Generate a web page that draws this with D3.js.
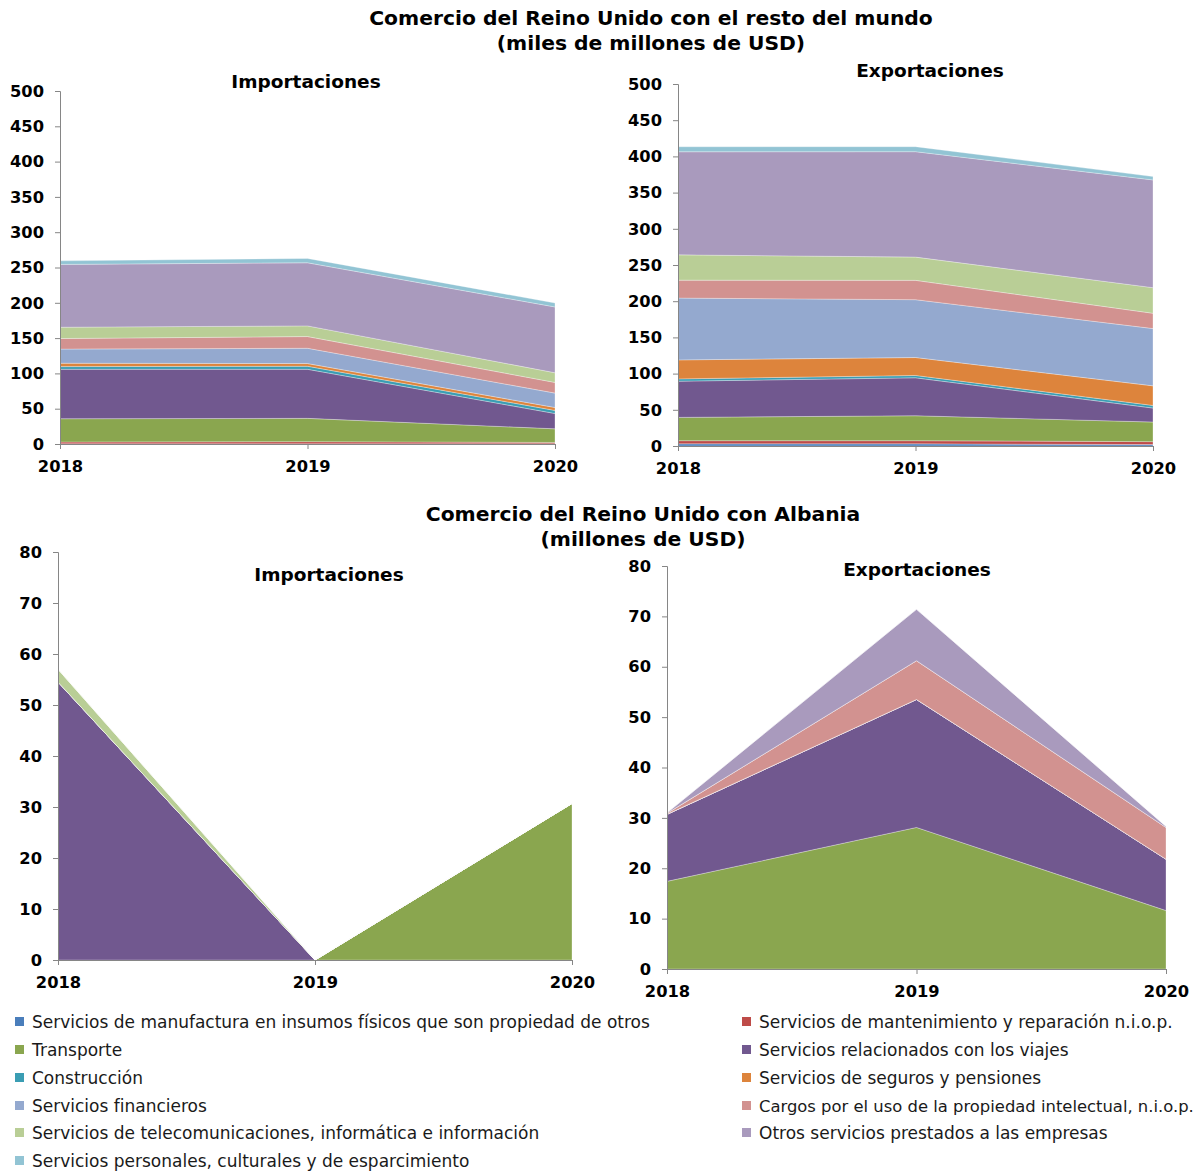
<!DOCTYPE html>
<html lang="es">
<head>
<meta charset="utf-8">
<script src="https://cdn.jsdelivr.net/npm/d3@7"></script>
<style>
  body { margin: 0; background: #fff; }
  svg { display: block; }
  .tick text { font-family: "DejaVu Sans", Verdana, sans-serif; font-weight: bold; font-size: 16.3px; fill: #000; }
  .title { font-family: "DejaVu Sans", Verdana, sans-serif; font-weight: bold; font-size: 20.3px; fill: #000; }
  .subtitle { font-family: "DejaVu Sans", Verdana, sans-serif; font-weight: bold; font-size: 18.5px; fill: #000; }
  .legend text { font-family: "DejaVu Sans", Verdana, sans-serif; font-size: 17px; fill: #1a1a1a; }
  .legend text.narrow { font-size: 16.4px; }
</style>
</head>
<body>
<svg id="chart" width="1198" height="1171"></svg>
<script>
// Years on the horizontal axis
const years = [2018, 2019, 2020];

// Service categories (stack order, bottom to top)
const categories = [
  "Servicios de manufactura en insumos físicos que son propiedad de otros",
  "Servicios de mantenimiento y reparación n.i.o.p.",
  "Transporte",
  "Servicios relacionados con los viajes",
  "Construcción",
  "Servicios de seguros y pensiones",
  "Servicios financieros",
  "Cargos por el uso de la propiedad intelectual, n.i.o.p.",
  "Servicios de telecomunicaciones, informática e información",
  "Otros servicios prestados a las empresas",
  "Servicios personales, culturales y de esparcimiento"
];

const colors = [
  "#4a7ebb", "#be4b48", "#8aa64f", "#71588f", "#3a9db3", "#dd843c",
  "#94a9cf", "#d29290", "#b9ce96", "#a99abd", "#92c4d4"
];

// UK trade with the rest of the world, billions of USD (one row per category)
const worldImports = [
  [0.3, 0.3, 0.2],
  [2.5, 3.0, 2.0],
  [33.0, 33.0, 19.3],
  [70.0, 69.5, 21.7],
  [3.8, 4.3, 4.3],
  [4.8, 3.8, 4.2],
  [20.0, 21.7, 20.4],
  [15.0, 16.6, 15.1],
  [16.0, 15.1, 13.7],
  [89.0, 89.4, 93.2],
  [5.0, 6.1, 5.6]
];

const worldExports = [
  [3.0, 3.0, 2.0],
  [4.3, 4.3, 4.0],
  [32.2, 34.5, 27.1],
  [50.0, 52.4, 19.3],
  [3.2, 3.2, 3.6],
  [26.2, 24.8, 27.1],
  [85.4, 79.9, 79.1],
  [24.8, 26.7, 21.1],
  [34.9, 32.1, 35.4],
  [142.4, 145.6, 148.8],
  [6.9, 6.9, 4.6]
];

// UK trade with Albania, millions of USD
const albaniaImports = [
  [0, 0, 0],
  [0, 0, 0],
  [0, 0, 30.7],
  [54.5, 0, 0],
  [0, 0, 0],
  [0, 0, 0],
  [0, 0, 0],
  [0, 0, 0],
  [2.5, 0, 0],
  [0, 0, 0],
  [0, 0, 0]
];

const albaniaExports = [
  [0, 0, 0],
  [0, 0, 0],
  [17.4, 28.1, 11.6],
  [13.3, 25.4, 10.2],
  [0, 0, 0],
  [0, 0, 0],
  [0, 0, 0],
  [0.2, 7.7, 6.3],
  [0, 0, 0],
  [0.1, 10.2, 0.2],
  [0, 0, 0]
];

const yTicksWorld = [0, 50, 100, 150, 200, 250, 300, 350, 400, 450, 500];
const yTicksAlbania = [0, 10, 20, 30, 40, 50, 60, 70, 80];

const svg = d3.select("#chart");

function drawPanel(cfg) {
  const { values, x0, x1, y0, y1, max, ticks, title, titleX, titleY } = cfg;
  const g = svg.append("g");

  const x = d3.scalePoint().domain(years).range([x0, x1]);
  const y = d3.scaleLinear().domain([0, max]).range([y0, y1]);

  const rows = years.map((yr, j) => {
    const r = { year: yr };
    categories.forEach((c, i) => { r[i] = values[i][j]; });
    return r;
  });
  const stack = d3.stack().keys(categories.map((c, i) => i));
  const layers = stack(rows);

  const area = d3.area()
    .x(d => x(d.data.year))
    .y0(d => y(d[0]))
    .y1(d => y(d[1]));

  g.selectAll("path.layer")
    .data(layers)
    .join("path")
    .attr("class", "layer")
    .attr("d", area)
    .attr("fill", (d, i) => colors[i])
    .attr("stroke", "#ffffff")
    .attr("stroke-width", 0.6)
    .attr("stroke-opacity", 0.5);

  const yAxis = d3.axisLeft(y).tickValues(ticks).tickSize(5).tickPadding(11);
  const ya = g.append("g").attr("transform", `translate(${x0},0)`).call(yAxis);
  ya.selectAll(".domain, .tick line").attr("stroke", "#868686");
  ya.select(".domain").attr("d", `M-5,${y1 + 0.5}H0.5V${y0}`);

  const xAxis = d3.axisBottom(x).tickSize(5).tickPadding(11);
  const xa = g.append("g").attr("transform", `translate(0,${y0})`).call(xAxis);
  xa.selectAll(".domain, .tick line").attr("stroke", "#868686");
  xa.select(".domain").attr("d", `M${x0},0.5H${x1}`);

  g.append("text").attr("class", "subtitle")
    .attr("x", titleX).attr("y", titleY)
    .attr("text-anchor", "middle").text(title);
}

// Main titles
svg.append("text").attr("class", "title").attr("x", 651).attr("y", 25)
  .attr("text-anchor", "middle").text("Comercio del Reino Unido con el resto del mundo");
svg.append("text").attr("class", "title").attr("x", 651).attr("y", 50)
  .attr("text-anchor", "middle").text("(miles de millones de USD)");
svg.append("text").attr("class", "title").attr("x", 643).attr("y", 521)
  .attr("text-anchor", "middle").text("Comercio del Reino Unido con Albania");
svg.append("text").attr("class", "title").attr("x", 643).attr("y", 546)
  .attr("text-anchor", "middle").text("(millones de USD)");

drawPanel({ values: worldImports, x0: 60, x1: 555, y0: 444, y1: 91, max: 500,
  ticks: yTicksWorld, title: "Importaciones", titleX: 306, titleY: 88 });
drawPanel({ values: worldExports, x0: 678, x1: 1153, y0: 446, y1: 84, max: 500,
  ticks: yTicksWorld, title: "Exportaciones", titleX: 930, titleY: 77 });
drawPanel({ values: albaniaImports, x0: 58, x1: 572, y0: 960, y1: 552, max: 80,
  ticks: yTicksAlbania, title: "Importaciones", titleX: 329, titleY: 581 });
drawPanel({ values: albaniaExports, x0: 667, x1: 1166, y0: 969, y1: 566, max: 80,
  ticks: yTicksAlbania, title: "Exportaciones", titleX: 917, titleY: 576 });

// Legend: two columns, left column takes even indices
const legend = svg.append("g").attr("class", "legend");
const rowY = [1022, 1050, 1078, 1106, 1133, 1161];
const colX = [15, 742];
const colMaxText = [640, 426];
categories.forEach((c, i) => {
  const col = i % 2;
  const row = Math.floor(i / 2);
  const item = legend.append("g").attr("transform", `translate(${colX[col]},${rowY[row]})`);
  item.append("rect").attr("x", 0).attr("y", -5).attr("width", 9).attr("height", 9)
    .attr("fill", colors[i]);
  const t = item.append("text").attr("x", 17).attr("y", 6).text(c);
  // long labels get a slightly smaller size so they stay inside the page
  if (t.node().getComputedTextLength() > colMaxText[col]) {
    t.classed("narrow", true);
  }
});
</script>
</body>
</html>
